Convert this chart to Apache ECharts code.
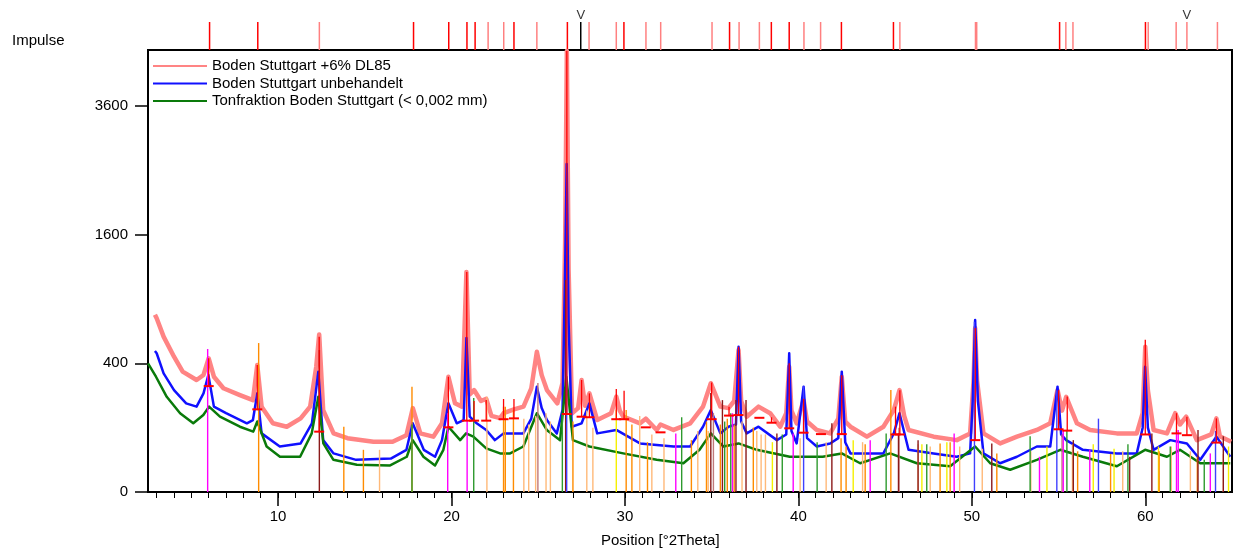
<!DOCTYPE html>
<html>
<head>
<meta charset="utf-8">
<script src="https://cdn.jsdelivr.net/npm/echarts@6/dist/echarts.min.js"></script>
<style>
html, body { margin: 0; padding: 0; background: #fff; }
#chart { width: 1234px; height: 553px; }
</style>
</head>
<body>
<div id="chart"></div>
<script>
const FONT = '"Liberation Sans", Arial, sans-serif';
const X_MIN = 2.5, X_MAX = 65, Y_TOP = 4720;

// ticks / labels
const xLabelValues = [10, 20, 30, 40, 50, 60];
const xMinorValues = [];
for (let i = 3; i <= 64; i++) xMinorValues.push(i);
const yTickValues = [0, 400, 1600, 3600];

// measured patterns: [2Theta, counts]
const dl85 = [
  [2.9, 760], [3.0, 730], [3.4, 583], [4.0, 442], [4.5, 350], [5.3, 303], [5.7, 331], [6.0, 432], [6.3, 321],
  [6.85, 260], [7.8, 227], [8.55, 204], [8.8, 390], [9.05, 176], [9.7, 114], [10.5, 103], [11.3, 131],
  [11.85, 176], [12.2, 379], [12.37, 600], [12.6, 162], [13.2, 83], [14.0, 70], [15.5, 61], [16.6, 61],
  [17.4, 78], [17.77, 170], [18.2, 83], [18.95, 74], [19.45, 114], [19.82, 321], [20.2, 190], [20.6, 176],
  [20.86, 1170], [21.05, 230], [21.3, 251], [21.7, 200], [22.0, 210], [22.3, 140], [22.8, 132], [23.0, 150],
  [23.6, 165], [24.15, 176], [24.6, 260], [24.92, 475], [25.2, 330], [25.5, 251], [26.1, 190], [26.4, 287],
  [26.55, 1500], [26.65, 4700], [26.75, 1200], [26.95, 150], [27.3, 170], [27.5, 303], [27.7, 180],
  [27.95, 235], [28.4, 125], [29.2, 150], [29.5, 220], [29.7, 160], [29.9, 137], [30.87, 114], [31.2, 130],
  [31.83, 93], [32.05, 110], [32.8, 93], [33.76, 114], [34.5, 176], [34.95, 286], [35.5, 176], [35.97, 170],
  [36.3, 200], [36.55, 487], [36.7, 200], [37.02, 137], [37.7, 176], [38.37, 150], [38.95, 103], [39.3, 150],
  [39.47, 379], [39.6, 160], [39.9, 114], [40.3, 204], [40.5, 120], [41.06, 93], [41.83, 83], [42.3, 130],
  [42.5, 321], [42.7, 120], [43.0, 103], [43.95, 74], [44.9, 103], [45.5, 162], [45.83, 251], [46.1, 140],
  [46.35, 93], [47.8, 74], [49.13, 65], [49.9, 83], [50.1, 300], [50.19, 650], [50.3, 300], [50.67, 83],
  [51.63, 57], [52.6, 74], [53.75, 93], [54.52, 114], [54.94, 251], [55.2, 160], [55.44, 219], [56.06, 114],
  [56.82, 93], [58.36, 83], [59.51, 83], [59.85, 150], [60.0, 510], [60.15, 250], [60.48, 93], [61.25, 83],
  [61.73, 150], [62.0, 110], [62.36, 137], [62.97, 65], [63.8, 80], [64.1, 131], [64.3, 75], [64.95, 61]
];
const unbehandelt = [
  [2.9, 480], [3.0, 465], [3.4, 340], [4.0, 251], [4.7, 190], [5.3, 176], [5.7, 235], [5.98, 331], [6.3, 176],
  [7.0, 150], [8.2, 114], [8.55, 125], [8.8, 235], [9.05, 83], [10.1, 50], [11.3, 57], [11.95, 114],
  [12.32, 350], [12.6, 65], [13.2, 36], [14.5, 25], [16.5, 27], [17.4, 43], [17.76, 114], [18.4, 43],
  [19.05, 30], [19.45, 65], [19.82, 190], [20.3, 114], [20.7, 125], [20.86, 573], [21.05, 137], [21.45, 114],
  [22.0, 93], [22.5, 65], [23.0, 83], [24.14, 83], [24.6, 130], [24.92, 268], [25.2, 170], [25.5, 125],
  [26.07, 83], [26.4, 162], [26.55, 1200], [26.64, 2600], [26.75, 700], [26.93, 103], [27.5, 114],
  [27.95, 190], [28.4, 83], [29.5, 93], [30.87, 57], [32.8, 50], [33.76, 50], [34.5, 103], [34.95, 162],
  [35.5, 83], [35.97, 103], [36.4, 110], [36.55, 510], [36.7, 120], [37.02, 83], [37.7, 103], [38.76, 65],
  [39.3, 80], [39.47, 465], [39.6, 90], [39.9, 57], [40.3, 268], [40.5, 70], [41.06, 50], [41.83, 57],
  [42.3, 70], [42.5, 350], [42.7, 60], [43.0, 36], [44.9, 36], [45.5, 83], [45.83, 150], [46.35, 43],
  [47.79, 36], [49.13, 30], [49.9, 36], [50.05, 200], [50.19, 715], [50.35, 200], [50.67, 36], [51.63, 20],
  [52.6, 30], [53.75, 50], [54.52, 50], [54.94, 268], [55.15, 80], [55.44, 65], [56.4, 43], [58.36, 36],
  [59.51, 36], [59.85, 100], [59.99, 379], [60.15, 100], [60.48, 43], [61.44, 65], [62.4, 57], [63.17, 25],
  [64.1, 74], [64.9, 30]
];
const tonfraktion = [
  [2.5, 400], [2.96, 321], [3.58, 219], [4.35, 150], [5.11, 114], [5.69, 143], [6.02, 176], [6.65, 137],
  [7.8, 103], [8.57, 88], [8.8, 120], [9.34, 50], [10.11, 30], [11.27, 30], [11.94, 83], [12.32, 219],
  [12.61, 57], [13.19, 25], [14.54, 18], [16.46, 17], [17.42, 30], [17.76, 65], [18.38, 30], [19.05, 17],
  [19.53, 43], [19.82, 103], [20.5, 65], [20.84, 83], [21.26, 74], [22.0, 46], [22.8, 36], [23.38, 36],
  [24.14, 50], [24.92, 150], [25.49, 93], [26.26, 65], [26.62, 321], [27.0, 65], [27.95, 50], [29.9, 36],
  [31.83, 25], [33.37, 20], [34.3, 43], [34.95, 83], [35.68, 50], [36.55, 57], [37.6, 43], [39.5, 30],
  [41.4, 30], [42.5, 36], [43.56, 20], [45.29, 36], [46.83, 20], [48.75, 16], [50.19, 50], [51.06, 20],
  [52.21, 12], [53.75, 25], [55.1, 43], [56.4, 30], [58.36, 16], [59.99, 43], [61.25, 30], [62.0, 43],
  [63.17, 20], [64.9, 20]
];

// peak list: [2Theta, background, peak top]
const peakMarks = [
  [6.0, 271, 432], [8.8, 165, 390], [12.37, 88, 583], [19.82, 101, 321], [20.88, 123, 1170], [21.3, 123, 200],
  [22.0, 123, 204], [23.0, 128, 209], [23.6, 131, 209], [26.65, 147, 4700], [27.5, 137, 303], [27.95, 135, 235],
  [29.5, 128, 256], [29.95, 128, 248], [31.2, 101, 101], [32.05, 86, 86], [35.0, 128, 290], [36.0, 141, 176],
  [36.55, 143, 510], [37.75, 133, 133], [38.45, 116, 135], [39.47, 98, 400], [40.3, 85, 210], [41.3, 81, 81],
  [42.5, 81, 330], [45.6, 80, 176], [45.85, 80, 250], [50.2, 65, 650], [55.0, 95, 250], [55.5, 91, 220],
  [60.0, 80, 560], [61.8, 83, 150], [62.4, 78, 137], [64.1, 59, 131]
];

// top strip peak positions
const topStrong = [6.05, 8.83, 17.81, 19.84, 20.89, 21.36, 23.6, 26.68, 29.94, 36.03, 38.44, 39.47, 42.48, 45.48, 55.06, 60.01];
const topLight = [12.38, 22.11, 23.01, 24.92, 27.93, 29.5, 31.21, 32.06, 35.02, 36.58, 37.75, 40.32, 41.28, 45.85,
  50.21, 50.28, 55.42, 55.83, 60.17, 61.78, 62.4, 64.16];
const topBlack = [27.45];
const vMarks = [27.45, 62.4];

// reference sticks: [2Theta, counts]
const refMagenta = [[5.94, 494], [19.78, 150], [20.9, 125], [32.93, 83], [36.2, 150], [39.7, 83], [44.14, 65],
  [48.98, 83], [53.9, 30], [55.27, 93], [56.8, 43], [61.8, 93], [61.9, 93], [63.75, 36]];
const refOrange = [[8.88, 536], [13.79, 103], [14.92, 43], [17.72, 268], [23.0, 176], [23.1, 176], [23.57, 162],
  [27.0, 120], [30.07, 162], [30.4, 110], [31.3, 60], [33.83, 65], [34.7, 120], [35.5, 110], [35.9, 130],
  [36.3, 110], [37.4, 100], [42.46, 70], [42.75, 50], [43.85, 55], [45.33, 251], [48.17, 57], [48.75, 60],
  [51.44, 36], [56.1, 40], [58.0, 35], [60.8, 40], [63.0, 30]];
const refPeach = [[15.85, 43], [22.04, 219], [24.17, 130], [24.45, 110], [24.85, 140], [25.45, 150], [25.7, 120],
  [27.8, 160], [28.15, 100], [30.85, 140], [31.55, 80], [32.25, 70], [34.2, 90], [34.8, 90], [36.75, 120],
  [37.6, 90], [37.85, 80], [38.1, 80], [40.1, 70], [41.6, 60], [43.7, 60], [46.9, 55], [47.6, 50], [49.3, 50],
  [50.6, 45], [53.4, 40], [55.8, 55], [58.7, 40], [61.5, 50], [62.6, 40], [64.5, 35]];
const refYellow = [[29.5, 162], [38.5, 60], [43.16, 65], [47.12, 55], [48.56, 60], [54.33, 50], [57.0, 55],
  [58.2, 45], [60.76, 50], [64.8, 50]];
const refGreen = [[17.72, 110], [21.28, 214], [26.39, 150], [33.27, 135], [35.75, 120], [36.1, 150], [39.07, 80],
  [41.08, 60], [45.06, 83], [47.4, 55], [53.36, 75], [55.48, 90], [59.0, 55], [61.44, 50], [63.4, 25]];
const refDarkRed = [[12.38, 487], [26.58, 1086], [34.95, 237], [35.62, 204], [36.4, 204], [36.98, 204], [38.76, 83],
  [41.93, 114], [45.77, 83], [46.9, 65], [51.15, 57], [55.85, 65], [59.1, 30], [60.38, 83], [63.04, 93], [64.5, 75]];
const refMauve = [[24.98, 287], [35.1, 150], [45.8, 100], [55.2, 80]];
const refBlue = [[26.64, 1100], [40.3, 270], [50.15, 700], [54.9, 250], [57.3, 130], [64.05, 90]];

const toSqrt = arr => arr.map(d => [d[0], Math.sqrt(d[1])]);

function stickSeries(list, color, width) {
  return {
    type: 'custom', xAxisIndex: 0, yAxisIndex: 0, silent: true, z: 5,
    data: toSqrt(list),
    encode: { x: 0, y: 1 },
    renderItem: (params, api) => {
      const a = api.coord([api.value(0), 0]);
      const b = api.coord([api.value(0), api.value(1)]);
      return { type: 'line', shape: { x1: a[0], y1: a[1], x2: b[0], y2: b[1] },
        style: { stroke: color, lineWidth: width } };
    }
  };
}

function topTickSeries(list, color) {
  return {
    type: 'custom', xAxisIndex: 2, yAxisIndex: 1, silent: true,
    data: list.map(p => [p, 1]),
    encode: { x: 0, y: 1 },
    renderItem: (params, api) => {
      const a = api.coord([api.value(0), 0]);
      const b = api.coord([api.value(0), 1]);
      return { type: 'line', shape: { x1: a[0], y1: a[1], x2: b[0], y2: b[1] },
        style: { stroke: color, lineWidth: 1.5 } };
    }
  };
}

function lineSeries(name, data, color, width, z) {
  return {
    name, type: 'line', xAxisIndex: 0, yAxisIndex: 0, data: toSqrt(data), color,
    showSymbol: false, symbol: 'none', z, lineStyle: { color, width, join: 'round' }
  };
}

const chart = echarts.init(document.getElementById('chart'));

const option = {
  animation: false,
  backgroundColor: '#fff',
  grid: [
    { left: 148, right: 2, top: 50, bottom: 61, show: true, borderColor: '#000', borderWidth: 2 },
    { left: 148, right: 2, top: 22, height: 28, show: false }
  ],
  xAxis: [
    {
      type: 'value', gridIndex: 0, min: X_MIN, max: X_MAX, position: 'bottom',
      axisLine: { show: true, lineStyle: { color: '#000', width: 2 } },
      axisTick: { show: true, length: 14, customValues: xLabelValues, lineStyle: { color: '#000', width: 1.5 } },
      axisLabel: { customValues: xLabelValues, margin: 17, fontSize: 15, fontFamily: FONT, color: '#000' },
      splitLine: { show: false }
    },
    {
      type: 'value', gridIndex: 0, min: X_MIN, max: X_MAX, position: 'bottom',
      axisLine: { show: false },
      axisTick: { show: true, length: 6, customValues: xMinorValues, lineStyle: { color: '#000', width: 1 } },
      axisLabel: { show: false },
      splitLine: { show: false }
    },
    { type: 'value', gridIndex: 1, min: X_MIN, max: X_MAX, show: false }
  ],
  yAxis: [
    {
      type: 'value', gridIndex: 0, min: 0, max: Math.sqrt(Y_TOP),
      axisLine: { show: true, lineStyle: { color: '#000', width: 2 } },
      axisTick: { show: true, length: 13, customValues: yTickValues.map(Math.sqrt), lineStyle: { color: '#000', width: 1.5 } },
      axisLabel: {
        customValues: yTickValues.map(Math.sqrt), margin: 20, fontSize: 15, fontFamily: FONT, color: '#000',
        formatter: v => String(Math.round(v * v))
      },
      splitLine: { show: false }
    },
    { type: 'value', gridIndex: 1, min: 0, max: 1, show: false }
  ],
  legend: {
    left: 148, top: 53, orient: 'vertical', itemGap: 1.5, itemWidth: 54, itemHeight: 2, icon: 'rect',
    textStyle: { fontSize: 15, fontFamily: FONT, color: '#000', lineHeight: 16 },
    data: ['Boden Stuttgart +6% DL85', 'Boden Stuttgart unbehandelt', 'Tonfraktion Boden Stuttgart (< 0,002 mm)']
  },
  graphic: [
    { type: 'text', left: 12, top: 33, style: { text: 'Impulse', fontSize: 15, fontFamily: FONT, fill: '#000' } },
    { type: 'text', left: 601, top: 533, style: { text: 'Position [°2Theta]', fontSize: 15, fontFamily: FONT, fill: '#000' } }
  ],
  series: [
    lineSeries('Boden Stuttgart +6% DL85', dl85, '#FF8484', 4.5, 2),
    lineSeries('Boden Stuttgart unbehandelt', unbehandelt, '#1010FF', 2.5, 3),
    lineSeries('Tonfraktion Boden Stuttgart (< 0,002 mm)', tonfraktion, '#0A7A0A', 2.5, 4),
    stickSeries(refPeach, '#FFB978', 1.4),
    stickSeries(refYellow, '#F5F000', 1.4),
    stickSeries(refOrange, '#FF8C00', 1.4),
    stickSeries(refGreen, '#2E9A2E', 1.4),
    stickSeries(refMauve, '#C07878', 1.4),
    stickSeries(refDarkRed, '#8B1A1A', 1.4),
    stickSeries(refMagenta, '#FF00FF', 1.4),
    stickSeries(refBlue, '#4040FF', 1.4),
    {
      type: 'custom', xAxisIndex: 0, yAxisIndex: 0, silent: true, z: 6,
      data: peakMarks.map(d => [d[0], Math.sqrt(d[1]), Math.sqrt(d[2])]),
      encode: { x: 0, y: [1, 2] },
      renderItem: (params, api) => {
        const a = api.coord([api.value(0), api.value(1)]);
        const b = api.coord([api.value(0), api.value(2)]);
        return {
          type: 'group', children: [
            { type: 'line', shape: { x1: a[0], y1: a[1], x2: b[0], y2: b[1] }, style: { stroke: '#FF0000', lineWidth: 1.3 } },
            { type: 'line', shape: { x1: a[0] - 5, y1: a[1], x2: a[0] + 5, y2: a[1] }, style: { stroke: '#FF0000', lineWidth: 2 } }
          ]
        };
      }
    },
    topTickSeries(topLight, '#FF8080'),
    topTickSeries(topStrong, '#FF0000'),
    topTickSeries(topBlack, '#000000'),
    {
      type: 'scatter', xAxisIndex: 2, yAxisIndex: 1, silent: true, symbolSize: 0,
      data: vMarks.map(p => [p, 1]),
      label: { show: true, position: 'top', distance: 0, formatter: 'V', fontSize: 13, fontFamily: FONT, color: '#000' }
    }
  ]
};

chart.setOption(option);
</script>
</body>
</html>
